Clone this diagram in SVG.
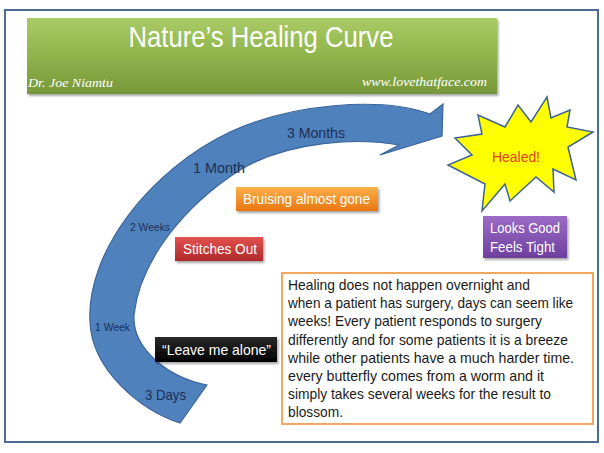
<svg xmlns="http://www.w3.org/2000/svg" width="604" height="453" viewBox="0 0 604 453">
<defs>
<linearGradient id="gGreen" x1="0" y1="0" x2="0" y2="1">
<stop offset="0" stop-color="#a9cb66"/><stop offset="0.5" stop-color="#8fb44b"/><stop offset="1" stop-color="#77983a"/>
</linearGradient>
<linearGradient id="gOrange" x1="0" y1="0" x2="0" y2="1">
<stop offset="0" stop-color="#fbb04a"/><stop offset="1" stop-color="#e8760f"/>
</linearGradient>
<linearGradient id="gRed" x1="0" y1="0" x2="0" y2="1">
<stop offset="0" stop-color="#e2524e"/><stop offset="1" stop-color="#b0282b"/>
</linearGradient>
<linearGradient id="gBlack" x1="0" y1="0" x2="0" y2="1">
<stop offset="0" stop-color="#2a2a2a"/><stop offset="1" stop-color="#000"/>
</linearGradient>
<linearGradient id="gPurple" x1="0" y1="0" x2="0" y2="1">
<stop offset="0" stop-color="#9c6cc6"/><stop offset="1" stop-color="#6e3f9e"/>
</linearGradient>
<filter id="shadow" x="-10%" y="-10%" width="130%" height="140%">
<feDropShadow dx="1.5" dy="2" stdDeviation="1.2" flood-color="#000" flood-opacity="0.35"/>
</filter>
<style>
.lbl{font-family:"Liberation Sans",Arial,sans-serif;fill:#ffffff;font-size:15px}
.arrowlbl{font-family:"Liberation Sans",Arial,sans-serif;fill:#1c2f55}
.body{font-family:"Liberation Sans",Arial,sans-serif;font-size:14.5px;fill:#1a1a1a}
.sig{font-family:"Liberation Serif","Times New Roman",serif;font-style:italic;fill:#ffffff;font-size:13px}
</style>
</defs>
<rect x="0" y="0" width="604" height="453" fill="#ffffff"/>
<rect id="frame" x="5" y="10" width="593" height="432" fill="none" stroke="#4d6b94" stroke-width="2"/>

<g id="banner">
<rect x="27" y="18" width="470" height="76" fill="url(#gGreen)" filter="url(#shadow)"/>
<text x="261" y="47" text-anchor="middle" font-family="'Liberation Sans',Arial,sans-serif" font-size="30" fill="#ffffff" textLength="265" lengthAdjust="spacingAndGlyphs">Nature’s Healing Curve</text>
<text class="sig" x="28" y="87" textLength="85" lengthAdjust="spacingAndGlyphs">Dr. Joe Niamtu</text>
<text class="sig" x="362" y="86" textLength="125" lengthAdjust="spacingAndGlyphs">www.lovethatface.com</text>
</g>

<g id="arrow">
<path d="M180,423 C140,410 92,370 90,322 C86,252 150,170 230,132 C290,104 380,96 430,114 L443,104 L442,136 L380,155 L399,145 C360,138 290,140 240,170 C185,205 140,260 134,315 C132,350 170,378 207,385 Z" fill="#4f81bd" stroke="#3a659a" stroke-width="1.2"/>
<text class="arrowlbl" x="287" y="138" font-size="15" textLength="58" lengthAdjust="spacingAndGlyphs">3 Months</text>
<text class="arrowlbl" x="193" y="173" font-size="15" textLength="52" lengthAdjust="spacingAndGlyphs">1 Month</text>
<text class="arrowlbl" x="130" y="231" font-size="11" textLength="40" lengthAdjust="spacingAndGlyphs">2 Weeks</text>
<text class="arrowlbl" x="95" y="331" font-size="11" textLength="35" lengthAdjust="spacingAndGlyphs">1 Week</text>
<text class="arrowlbl" x="145" y="400" font-size="15" textLength="41" lengthAdjust="spacingAndGlyphs">3 Days</text>
</g>

<g id="bruising">
<rect x="236" y="187" width="142" height="24" fill="url(#gOrange)" filter="url(#shadow)"/>
<text class="lbl" x="243" y="204" textLength="127" lengthAdjust="spacingAndGlyphs">Bruising almost gone</text>
</g>

<g id="stitches">
<rect x="175" y="237" width="88" height="24" fill="url(#gRed)" filter="url(#shadow)"/>
<text class="lbl" x="183" y="254" textLength="74" lengthAdjust="spacingAndGlyphs">Stitches Out</text>
</g>

<g id="leave">
<rect x="155" y="337" width="122" height="25" fill="url(#gBlack)" filter="url(#shadow)"/>
<text class="lbl" x="162" y="355" textLength="109" lengthAdjust="spacingAndGlyphs">“Leave me alone”</text>
</g>

<g id="healed">
<polygon points="547,97 551,118 570,110 567,127 593,132 568,147 576,180 553,169 554,192 536,177 510,201 505,184 482,211 485,184 448,165 472,155 455,138 482,134 478,115 505,127 518,105 531,122" fill="#ffff00" stroke="#3d6391" stroke-width="1.5" stroke-linejoin="miter"/>
<text x="492" y="162" font-family="'Liberation Sans',Arial,sans-serif" font-size="14" fill="#e0401c" textLength="48" lengthAdjust="spacingAndGlyphs">Healed!</text>
</g>

<g id="looks">
<rect x="483" y="216" width="84" height="42" fill="url(#gPurple)" filter="url(#shadow)"/>
<text class="lbl" x="490" y="233" textLength="70" lengthAdjust="spacingAndGlyphs">Looks Good</text>
<text class="lbl" x="490" y="252" textLength="65" lengthAdjust="spacingAndGlyphs">Feels Tight</text>
</g>

<g id="textbox">
<rect x="282" y="273" width="311" height="151" fill="#ffffff" stroke="#f0a860" stroke-width="2"/>
<text class="body" x="288" y="290" textLength="242" lengthAdjust="spacingAndGlyphs">Healing does not happen overnight and</text>
<text class="body" x="288" y="308" textLength="285" lengthAdjust="spacingAndGlyphs">when a patient has surgery,  days can seem like</text>
<text class="body" x="288" y="326" textLength="254" lengthAdjust="spacingAndGlyphs">weeks!  Every patient responds to surgery</text>
<text class="body" x="288" y="344.5" textLength="280" lengthAdjust="spacingAndGlyphs">differently and for some patients it is a breeze</text>
<text class="body" x="288" y="362.5" textLength="286" lengthAdjust="spacingAndGlyphs">while other patients have a much harder time.</text>
<text class="body" x="288" y="380.5" textLength="256" lengthAdjust="spacingAndGlyphs">every butterfly comes from a worm and it</text>
<text class="body" x="288" y="398.5" textLength="263" lengthAdjust="spacingAndGlyphs">simply takes several weeks for the result to</text>
<text class="body" x="288" y="416.5" textLength="55" lengthAdjust="spacingAndGlyphs">blossom.</text>
</g>
</svg>
